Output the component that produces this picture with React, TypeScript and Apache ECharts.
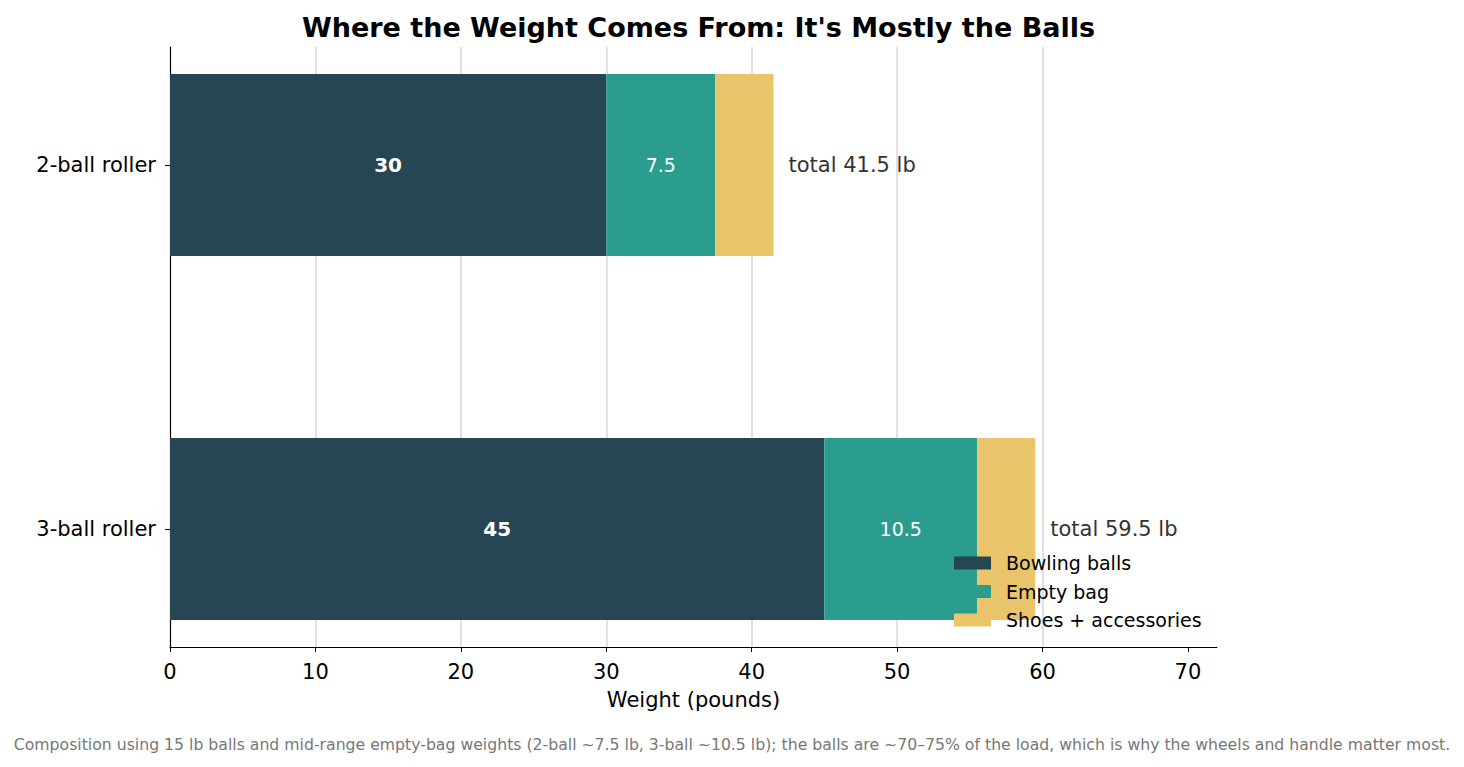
import { useEffect, useRef } from 'react';
import * as echarts from 'echarts';

const categories = ['2-ball roller', '3-ball roller'];
const ballWeights = [30, 45];
const bagWeights = [7.5, 10.5];
const shoeWeights = [4, 4];
const totals = [41.5, 59.5];
const seriesNames = ['Bowling balls', 'Empty bag', 'Shoes + accessories'];
const xTickValues = [0, 10, 20, 30, 40, 50, 60, 70];
const xRange = { min: 0, max: 72 };

const FONT = '"DejaVu Sans", sans-serif';
const COLORS = ['#264653', '#2a9d8f', '#e9c46a'];

export default function App() {
  const chartRef = useRef<HTMLDivElement>(null);

  useEffect(() => {
    document.body.style.margin = '0';
    if (!chartRef.current) return;
    const chart = echarts.init(chartRef.current, undefined, { renderer: 'svg' });

    const plotLeft = 170;
    const plotWidth = 1047;

    const option: echarts.EChartsOption = {
      animation: false,
      textStyle: { fontFamily: FONT },
      title: {
        text: "Where the Weight Comes From: It's Mostly the Balls",
        left: plotLeft + plotWidth / 2,
        textAlign: 'center',
        top: 9,
        textStyle: { fontSize: 27, fontWeight: 'bold', color: '#000', fontFamily: FONT },
      },
      legend: {
        orient: 'vertical',
        left: 949,
        top: 548.5,
        itemWidth: 37,
        itemHeight: 13,
        itemGap: 9.5,
        icon: 'rect',
        data: seriesNames,
        textStyle: { fontSize: 19, lineHeight: 19, color: '#000', fontFamily: FONT, padding: [0, 0, 0, 10] },
      },
      graphic: [
        {
          type: 'text',
          left: 'center',
          top: 736,
          style: {
            text: 'Composition using 15 lb balls and mid-range empty-bag weights (2-ball ~7.5 lb, 3-ball ~10.5 lb); the balls are ~70\u201375% of the load, which is why the wheels and handle matter most.',
            fontSize: 15.7,
            fill: '#777',
            fontFamily: FONT,
          },
        },
      ],
      grid: [
        { left: plotLeft, top: 47, width: plotWidth, height: 600, outerBoundsMode: 'none' } as any,
        { left: plotLeft, top: -17, width: plotWidth, height: 728, outerBoundsMode: 'none' } as any,
      ],
      xAxis: [
        {
          type: 'value',
          gridIndex: 0,
          min: xRange.min,
          max: xRange.max,
          interval: 10,
          name: 'Weight (pounds)',
          nameLocation: 'middle',
          nameGap: 42,
          nameTextStyle: { fontSize: 21, color: '#000', fontFamily: FONT },
          axisLine: { show: true, lineStyle: { color: '#000', width: 1.2 } },
          axisTick: { show: true, length: 5, customValues: xTickValues, lineStyle: { color: '#000' } },
          axisLabel: {
            fontSize: 21,
            color: '#000',
            margin: 14,
            fontFamily: FONT,
            customValues: xTickValues,
          },
          splitLine: { show: true, showMinLine: false, showMaxLine: false, lineStyle: { color: '#dedede', width: 1.8 } },
        },
        {
          type: 'value',
          gridIndex: 1,
          min: xRange.min,
          max: xRange.max,
          show: false,
        },
      ],
      yAxis: [
        {
          type: 'value',
          gridIndex: 0,
          min: 0,
          max: 1,
          axisLine: { show: true, lineStyle: { color: '#000', width: 1.2 } },
          axisTick: { show: false },
          axisLabel: { show: false },
          splitLine: { show: false },
        },
        {
          type: 'category',
          gridIndex: 1,
          inverse: true,
          data: categories,
          axisLine: { show: false },
          axisTick: { show: true, length: 5, alignWithLabel: true, lineStyle: { color: '#000' } },
          axisLabel: { fontSize: 21, color: '#000', margin: 14, fontFamily: FONT },
        },
      ],
      series: [
        {
          name: seriesNames[0],
          type: 'bar',
          stack: 'w',
          xAxisIndex: 1,
          yAxisIndex: 1,
          barWidth: '50%',
          itemStyle: { color: COLORS[0] },
          label: {
            show: true,
            position: 'inside',
            color: '#fff',
            fontWeight: 'bold',
            fontSize: 20,
            fontFamily: FONT,
          },
          data: ballWeights,
        },
        {
          name: seriesNames[1],
          type: 'bar',
          stack: 'w',
          xAxisIndex: 1,
          yAxisIndex: 1,
          barWidth: '50%',
          itemStyle: { color: COLORS[1] },
          label: {
            show: true,
            position: 'inside',
            color: '#fff',
            fontSize: 19,
            fontFamily: FONT,
          },
          data: bagWeights,
        },
        {
          name: seriesNames[2],
          type: 'bar',
          stack: 'w',
          xAxisIndex: 1,
          yAxisIndex: 1,
          barWidth: '50%',
          itemStyle: { color: COLORS[2] },
          label: {
            show: true,
            position: 'right',
            distance: 15,
            color: '#333',
            fontSize: 21,
            fontFamily: FONT,
            formatter: (p: any) => `total ${totals[p.dataIndex]} lb`,
          },
          data: shoeWeights,
        },
      ],
    };

    chart.setOption(option);
    return () => chart.dispose();
  }, []);

  return <div ref={chartRef} style={{ width: 1464, height: 767 }} />;
}
